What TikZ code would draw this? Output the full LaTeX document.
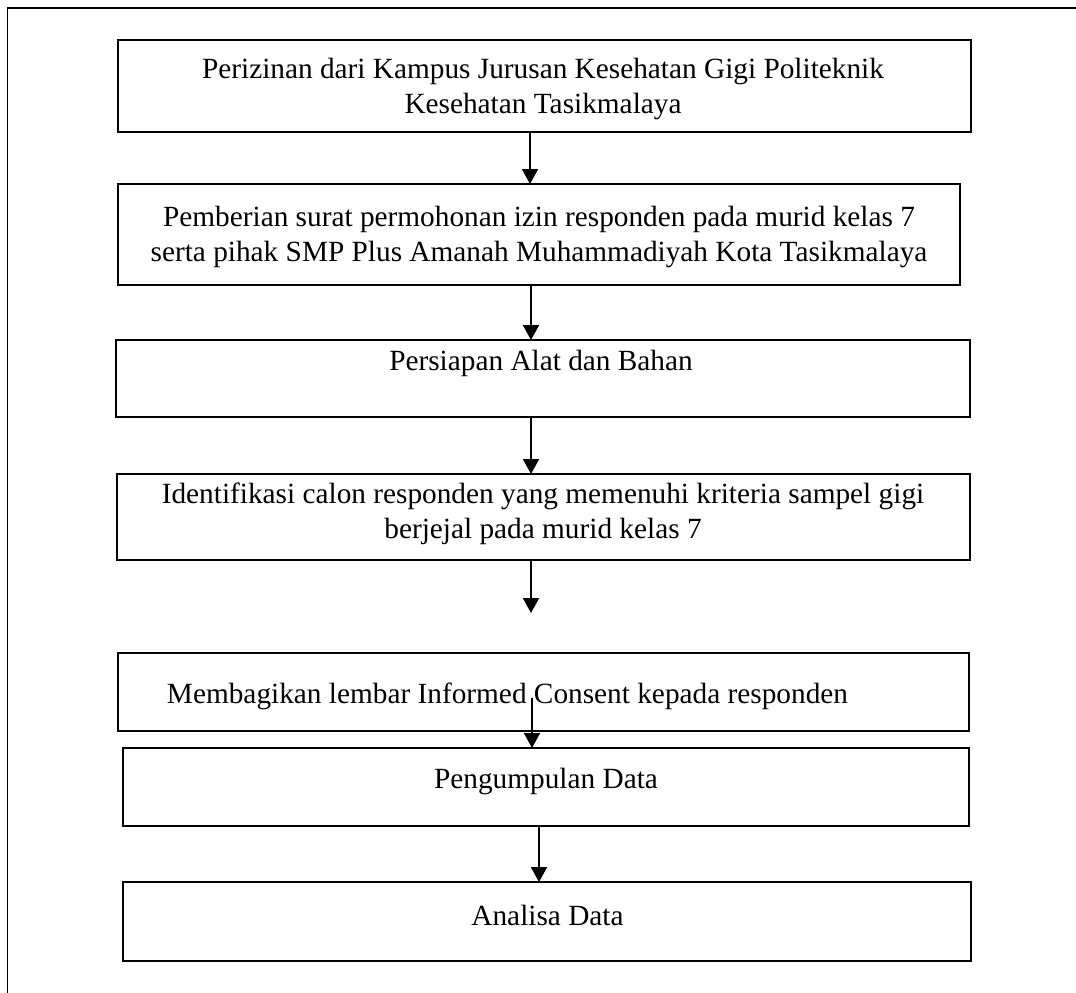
\documentclass[tikz,border=0pt]{standalone}
\usepackage{fontspec}
\setmainfont{Liberation Serif}
\usetikzlibrary{arrows.meta}
\tikzset{
  box/.style={draw, line width=2.3pt, rectangle, inner sep=0pt, outer sep=0pt},
  txt/.style={inner sep=0pt, align=center, font=\fontsize{29.3}{35}\selectfont},
  arr/.style={line width=2pt, -{Triangle[length=15pt,width=16pt]}},
  frame/.style={line width=1.6pt}
}
\begin{document}
\begin{tikzpicture}[x=1pt,y=-1pt]
\useasboundingbox (0,0) rectangle (1076,993);
\draw[frame] (1076,8) -- (7.5,8) -- (7.5,993);
% boxes
\node[box, minimum width=853pt, minimum height=92pt] (b1) at (544.5,86) {};
\node[box, minimum width=842pt, minimum height=101pt] (b2) at (539,234.5) {};
\node[box, minimum width=854pt, minimum height=77pt] (b3) at (543,378.5) {};
\node[box, minimum width=853pt, minimum height=86pt] (b4) at (543.5,517) {};
\node[box, minimum width=851pt, minimum height=78pt] (b5) at (543.5,692) {};
\node[box, minimum width=846pt, minimum height=78pt] (b6) at (546,787) {};
\node[box, minimum width=848pt, minimum height=79pt] (b7) at (547,921.5) {};
% texts
\node[txt] (t1) at (543,89) {Perizinan dari Kampus Jurusan Kesehatan Gigi Politeknik\\Kesehatan Tasikmalaya};
\node[txt] (t2) at (539,237) {Pemberian surat permohonan izin responden pada murid kelas 7\\serta pihak SMP Plus Amanah Muhammadiyah Kota Tasikmalaya};
\node[txt] (t3) at (541,363) {Persiapan Alat dan Bahan};
\node[txt] (t4) at (543,514) {Identifikasi calon responden yang memenuhi kriteria sampel gigi\\berjejal pada murid kelas 7};
\node[txt] (t5) at (507.5,696) {Membagikan lembar Informed Consent kepada responden};
\node[txt] (t6) at (546,781) {Pengumpulan Data};
\node[txt] (t7) at (547.5,915) {Analisa Data};
% connectors
\coordinate (e4) at (531,613);
\coordinate (s5) at (532,698);
\draw[arr] (b1.south -| 530,0) -- (b2.north -| 530,0);
\draw[arr] (b2.south -| 531,0) -- (b3.north -| 531,0);
\draw[arr] (b3.south -| 531,0) -- (b4.north -| 531,0);
\draw[arr] (b4.south -| e4) -- (e4);
\draw[arr, line width=1.7pt] (s5) -- (b6.north -| s5);
\draw[arr, line width=1.7pt] (b6.south -| 539,0) -- (b7.north -| 539,0);
\end{tikzpicture}
\end{document}
